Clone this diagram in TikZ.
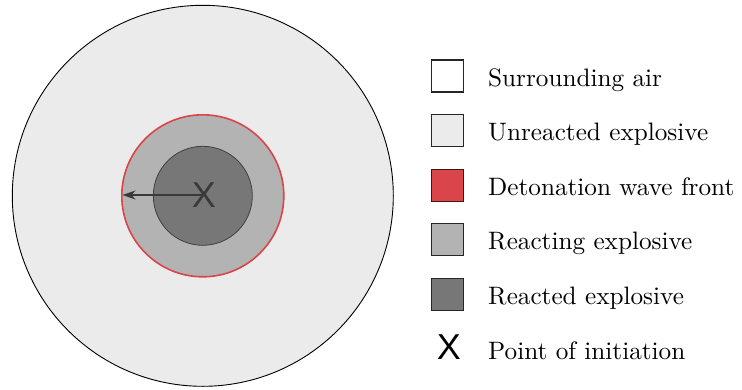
\documentclass[tikz,border=0pt]{standalone}
\usepackage{fontspec}
\newfontfamily\xsans{Liberation Sans}
\newfontfamily\lmten{lmroman10-regular.otf}
\usetikzlibrary{arrows.meta}
\definecolor{airc}{HTML}{FFFFFF}
\definecolor{unreac}{HTML}{EBEBEB}
\definecolor{reacting}{HTML}{B3B3B3}
\definecolor{reacted}{HTML}{777777}
\definecolor{wavered}{HTML}{D94548}
\definecolor{xgray}{HTML}{3A3A3A}
\tikzset{
  legbox/.style={draw=black!85, line width=1.1pt, minimum size=32pt, inner sep=0pt},
  legtext/.style={anchor=base west, inner sep=0pt, font=\lmten\fontsize{25.2}{30}\selectfont},
  xmark/.style={inner sep=0pt, font=\xsans\fontsize{36}{40}\selectfont}
}
\begin{document}
\begin{tikzpicture}[x=1pt,y=-1pt]
\useasboundingbox (0,0) rectangle (742,389);
% circles
\node (outer) [circle, draw=black, line width=0.9pt, fill=unreac, minimum size=381pt, inner sep=0pt] at (202.8,195.8) {};
\node (front) [circle, draw=wavered, line width=1.6pt, fill=reacting, minimum size=162pt, inner sep=0pt] at (202.8,195.8) {};
\node (core) [circle, draw=black!75, line width=0.8pt, fill=reacted, minimum size=99pt, inner sep=0pt] at (202.8,195.8) {};
\node (xc) [xmark, text=xgray] at (204,195) {X};
\coordinate (tip) at (122.5,195);
\draw[xgray, line width=1.1pt, -{Stealth[length=13pt, width=9pt, inset=4pt]}] (xc.center) -- (tip);
% legend
\node (b1) [legbox, fill=airc] at (447.5,76) {};
\node (b2) [legbox, fill=unreac] at (447.5,130.6) {};
\node (b3) [legbox, fill=wavered, draw=black!70!wavered] at (447.5,185.2) {};
\node (b4) [legbox, fill=reacting] at (447.5,239.8) {};
\node (b5) [legbox, fill=reacted] at (447.5,294.4) {};
\node (b6) [xmark, text=black] at (449,347.5) {X};
\node (t1) [legtext] at (488,86) {Surrounding air};
\node (t2) [legtext] at (488,140.6) {Unreacted explosive};
\node (t3) [legtext] at (488,195.2) {Detonation wave front};
\node (t4) [legtext] at (488,249.8) {Reacting explosive};
\node (t5) [legtext] at (488,304.4) {Reacted explosive};
\node (t6) [legtext] at (488,359) {Point of initiation};
\end{tikzpicture}
\end{document}
